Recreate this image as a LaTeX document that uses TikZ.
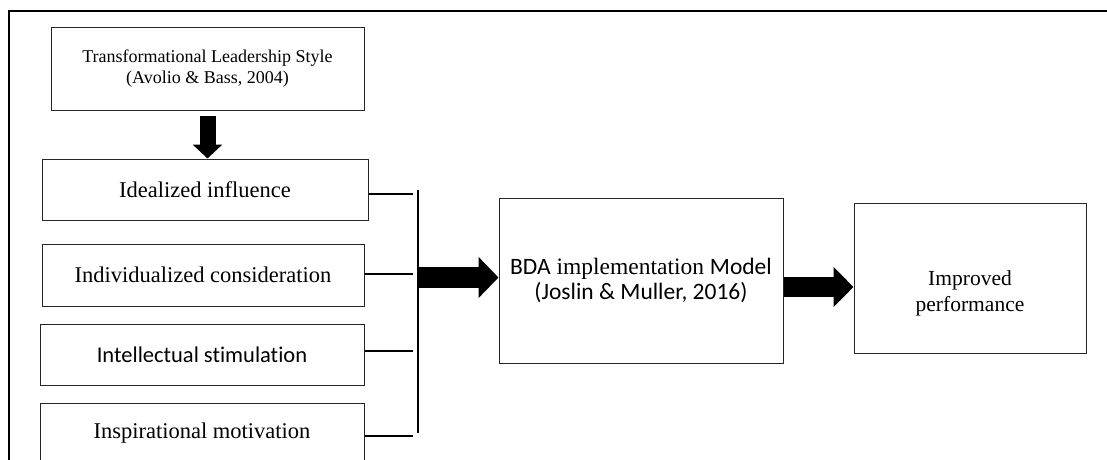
\documentclass[tikz,border=0pt]{standalone}
\usepackage{fontspec}
\setmainfont[Ligatures={TeX,NoCommon}]{Liberation Serif}
\newfontfamily\calfont[Ligatures={TeX,NoCommon}]{Carlito}
\usetikzlibrary{arrows.meta,calc}
\tikzset{
  box/.style={draw=black!85, line width=1pt, inner sep=0pt, align=center},
  link/.style={draw=black, line width=1.3pt},
}
\begin{document}
\begin{tikzpicture}[x=1pt,y=-1pt]
\useasboundingbox (0,0) rectangle (1107,459);
% frame
\draw[line width=1.6pt] (9,470) -- (9,11) -- (1115,11);
% boxes
\node[box, minimum width=313pt, minimum height=83pt, font=\fontsize{18}{21}\selectfont] (tls) at (207.5,68.5) {Transformational Leadership Style\\(Avolio \& Bass, 2004)};
\node[box, minimum width=326pt, minimum height=61pt, font=\fontsize{22.5}{26}\selectfont] (ide) at (205,189.5) {\raisebox{-3pt}{Idealized influence}};
\node[box, minimum width=322pt, minimum height=62pt, font=\fontsize{22.5}{26}\selectfont] (ind) at (203,275) {Individualized consideration};
\node[box, minimum width=324pt, minimum height=61pt, font=\calfont\fontsize{22.5}{26}\selectfont] (int) at (202,354.5) {Intellectual stimulation};
\node[box, minimum width=324pt, minimum height=61pt, font=\fontsize{22.5}{26}\selectfont] (ins) at (202,433.5) {Inspirational motivation};
\node[box, minimum width=284pt, minimum height=165pt, font=\fontsize{23.5}{25}\selectfont] (bda) at (641,280.5) {{\calfont BDA} implementation {\calfont Model}\\{\calfont (Joslin \& Muller, 2016)}};
\node[box, minimum width=232pt, minimum height=150pt, font=\fontsize{21.5}{26}\selectfont] (imp) at (970,278) {};
\node[font=\fontsize{21.5}{26}\selectfont, align=center, inner sep=0pt] (impt) at (970,293) {Improved\\performance};
% bar and links
\coordinate (bartop) at (418,190);
\coordinate (barbot) at (418,433);
\draw[link] (bartop) -- (barbot);
\coordinate (l1) at (413,194);
\coordinate (l2) at (413,274);
\coordinate (l3) at (413,351);
\coordinate (l4) at (413,436);
\draw[link] (ide.east |- l1) -- (l1);
\draw[link] (ind.east |- l2) -- (l2);
\draw[link] (int.east |- l3) -- (l3);
\draw[link] (ins.east |- l4) -- (l4);
% fat arrows
\draw[line width=16pt, -{Triangle[length=14pt, width=29pt]}] (207.5,116) -- (tls.south |- ide.north);
\coordinate (a1s) at (418,277.5);
\draw[line width=21pt, -{Triangle[length=20pt, width=40pt]}] (a1s) -- (bda.west |- a1s);
\coordinate (a2s) at (783,287);
\draw[line width=20pt, -{Triangle[length=20pt, width=39pt]}] (bda.east |- a2s) -- (imp.west |- a2s);
\end{tikzpicture}
\end{document}
